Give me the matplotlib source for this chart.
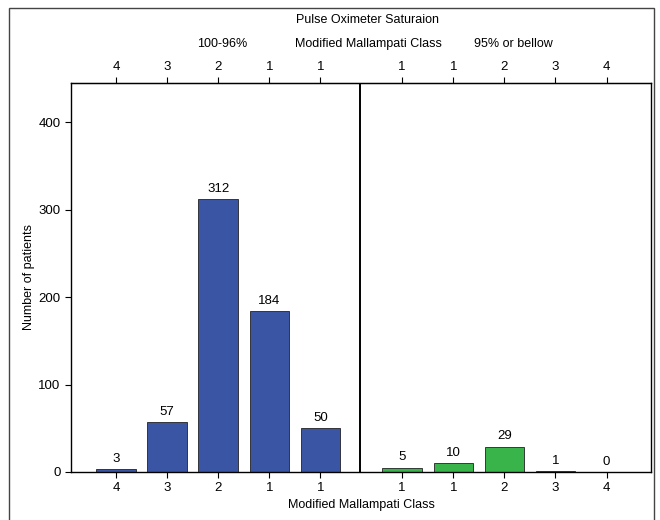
import matplotlib
matplotlib.use("Agg")
import matplotlib.pyplot as plt
from matplotlib.patches import Rectangle

plt.rcParams['font.family'] = ['Liberation Sans', 'DejaVu Sans']

# Modified Mallampati class labels for each bar
left_labels = ['4', '3', '2', '1', '1']
right_labels = ['1', '1', '2', '3', '4']
# Number of patients per group
left_counts = [3, 57, 312, 184, 50]     # saturation 100-96%
right_counts = [5, 10, 29, 1, 0]        # saturation 95% or below

blue = '#3a55a4'
green = '#39b44a'

left_x = [0, 1, 2, 3, 4]
right_x = [5.6, 6.6, 7.6, 8.6, 9.6]
divider = 4.78

fig = plt.figure(figsize=(6.6, 5.2), dpi=100)
ax = fig.add_axes([71 / 660, 1 - 472 / 520, 580 / 660, 389 / 520])

ax.bar(left_x, left_counts, width=0.77, color=blue, edgecolor='#222222', linewidth=0.6)
ax.bar(right_x, right_counts, width=0.77, color=green, edgecolor='#222222', linewidth=0.6)

for x, v in zip(left_x + right_x, left_counts + right_counts):
    ax.text(x, v + 5, str(v), ha='center', va='bottom', fontsize=9.5)

ax.axvline(divider, color='black', linewidth=1.4)

ax.set_xlim(-0.88, 10.47)
ax.set_ylim(0, 445)
ax.set_yticks([0, 100, 200, 300, 400])
ax.set_ylabel('Number of patients', fontsize=9)
ax.yaxis.set_label_coords(-0.062, 0.5)
ax.set_xlabel('Modified Mallampati Class', fontsize=9, labelpad=3)

ticks = left_x + right_x
labels = left_labels + right_labels
ax.set_xticks(ticks)
ax.set_xticklabels(labels)
ax.tick_params(axis='both', labelsize=9.5, length=4, width=0.8, direction='out')

top = ax.secondary_xaxis('top')
top.set_xticks(ticks)
top.set_xticklabels(labels)
top.tick_params(labelsize=9.5, length=4, width=0.8, direction='out')

for s in ax.spines.values():
    s.set_linewidth(1.0)

fig.text(368 / 660, 1 - 20 / 520, 'Pulse Oximeter Saturaion', ha='center', va='center', fontsize=9)
fig.text(368 / 660, 1 - 44 / 520, 'Modified Mallampati Class', ha='center', va='center', fontsize=9)
fig.text(222 / 660, 1 - 44 / 520, '100-96%', ha='center', va='center', fontsize=9)
fig.text(513 / 660, 1 - 44 / 520, '95% or bellow', ha='center', va='center', fontsize=9)

# outer frame around whole figure
fig.patches.append(Rectangle((9 / 660, -0.02), 645 / 660, 1.02 - 8 / 520,
                             transform=fig.transFigure, fill=False,
                             edgecolor='#444444', linewidth=1.0))

fig.savefig('out.png', dpi=100)
